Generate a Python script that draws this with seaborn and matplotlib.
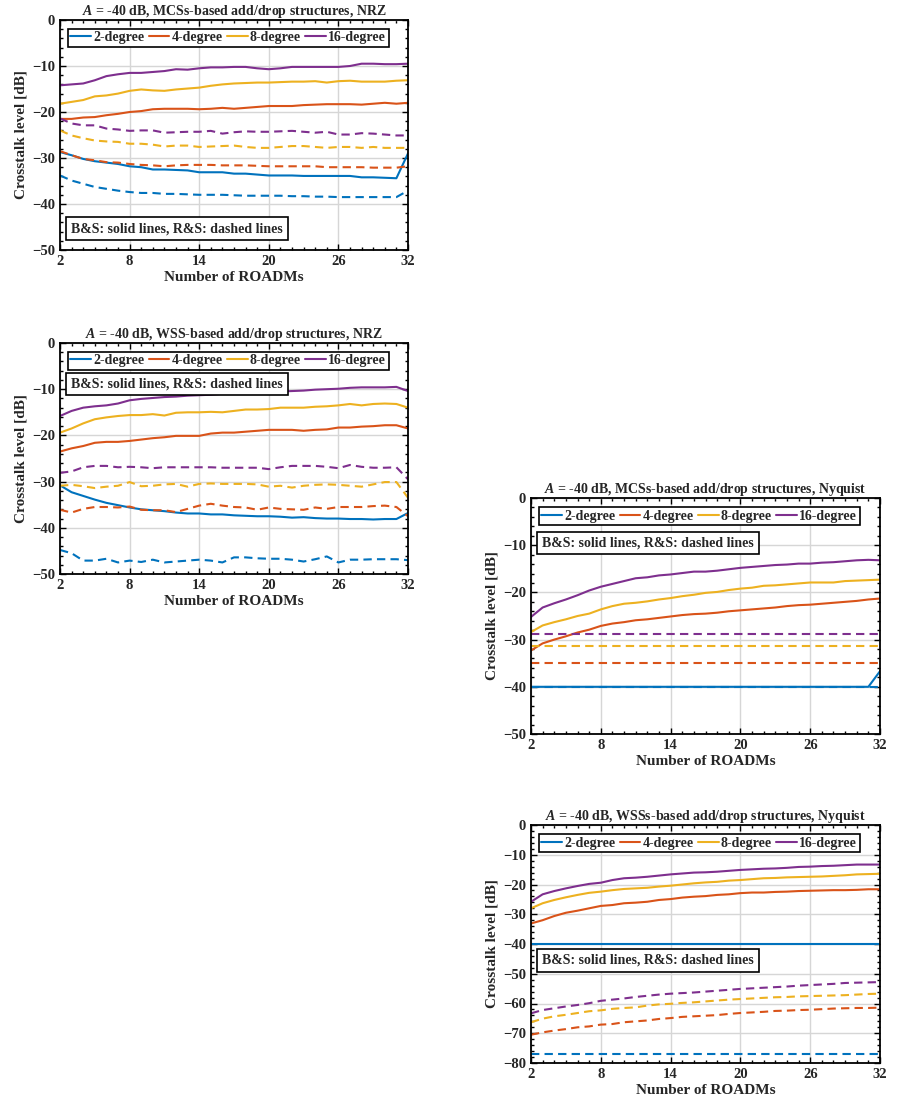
import numpy as np
import pandas as pd
import matplotlib
matplotlib.use("Agg")
import matplotlib.pyplot as plt
from matplotlib.lines import Line2D
from matplotlib.ticker import MultipleLocator
import seaborn as sns

sns.set_theme(style="ticks")
plt.rcParams["font.family"] = ["Liberation Serif", "DejaVu Serif"]
plt.rcParams["font.weight"] = "bold"
plt.rcParams["axes.labelweight"] = "bold"
plt.rcParams["axes.titleweight"] = "bold"
plt.rcParams["mathtext.fontset"] = "custom"
plt.rcParams["mathtext.it"] = "Liberation Serif:bold:italic"
plt.rcParams["mathtext.rm"] = "Liberation Serif:bold"

# ── data ─────────────────────────────────────────────────────────────────────
ROADMS = list(range(2, 33))
DEGREES = ["2-degree", "4-degree", "8-degree", "16-degree"]
COLORS = {"2-degree": "#0072BD", "4-degree": "#D95319",
          "8-degree": "#EDB120", "16-degree": "#7E2F8E"}
NOTE = "B&S: solid lines, R&S: dashed lines"

# MCSs-based, NRZ
MCS_NRZ_BS_2 = [-28.7, -29.4, -30.2, -30.7, -31.0, -31.3, -31.8,
                -32.0, -32.5, -32.5, -32.6, -32.7, -33.1,
                -33.1, -33.1, -33.4, -33.4, -33.6, -33.8,
                -33.8, -33.8, -33.9, -33.9, -33.9, -33.9,
                -33.9, -34.2, -34.2, -34.3, -34.4, -29.0]
MCS_NRZ_BS_4 = [-21.5, -21.5, -21.2, -21.1, -20.7, -20.4, -20.0,
                -19.8, -19.4, -19.3, -19.3, -19.3, -19.4,
                -19.3, -19.1, -19.3, -19.1, -18.9, -18.7,
                -18.7, -18.7, -18.5, -18.4, -18.3, -18.3,
                -18.3, -18.4, -18.2, -18.0, -18.2, -18.0]
MCS_NRZ_BS_8 = [-18.2, -17.8, -17.4, -16.6, -16.4, -16.0, -15.4,
                -15.1, -15.3, -15.4, -15.1, -14.9, -14.7,
                -14.3, -14.0, -13.8, -13.7, -13.6, -13.6,
                -13.5, -13.4, -13.4, -13.3, -13.6, -13.3,
                -13.2, -13.4, -13.4, -13.4, -13.2, -13.1]
MCS_NRZ_BS_16 = [-14.2, -14.0, -13.8, -13.1, -12.2, -11.8, -11.5,
                 -11.5, -11.3, -11.1, -10.7, -10.8, -10.5,
                 -10.3, -10.3, -10.2, -10.2, -10.5, -10.7,
                 -10.5, -10.2, -10.2, -10.2, -10.2, -10.2,
                 -10.0, -9.5, -9.5, -9.6, -9.6, -9.5]
MCS_NRZ_RS_2 = [-33.8, -34.9, -35.6, -36.3, -36.7, -37.1, -37.4,
                -37.6, -37.6, -37.8, -37.8, -37.9, -38.0,
                -38.0, -38.0, -38.1, -38.2, -38.2, -38.2,
                -38.2, -38.3, -38.3, -38.4, -38.4, -38.5,
                -38.5, -38.5, -38.5, -38.5, -38.5, -37.1]
MCS_NRZ_RS_4 = [-28.5, -29.4, -30.2, -30.5, -30.9, -31.0, -31.3,
                -31.5, -31.6, -31.8, -31.6, -31.5, -31.5,
                -31.5, -31.6, -31.6, -31.6, -31.7, -31.8,
                -31.8, -31.8, -31.8, -31.8, -32.0, -32.0,
                -32.0, -32.0, -32.1, -32.1, -32.1, -31.8]
MCS_NRZ_RS_8 = [-24.0, -25.1, -25.7, -26.2, -26.4, -26.5, -26.9,
                -26.9, -27.1, -27.5, -27.3, -27.3, -27.6,
                -27.5, -27.4, -27.3, -27.6, -27.8, -27.8,
                -27.6, -27.4, -27.4, -27.6, -27.8, -27.6,
                -27.6, -27.8, -27.6, -27.8, -27.8, -27.8]
MCS_NRZ_RS_16 = [-21.4, -22.5, -22.9, -22.9, -23.6, -23.8, -24.1,
                 -24.0, -24.0, -24.5, -24.4, -24.3, -24.3,
                 -24.1, -24.7, -24.4, -24.2, -24.3, -24.3,
                 -24.2, -24.1, -24.3, -24.5, -24.3, -24.9,
                 -24.9, -24.6, -24.7, -24.9, -25.1, -25.1]

# WSS-based, NRZ
WSS_NRZ_BS_2 = [-30.8, -32.3, -33.1, -33.9, -34.6, -35.1, -35.6,
                -36.0, -36.2, -36.4, -36.7, -36.9, -36.9,
                -37.1, -37.1, -37.3, -37.4, -37.5, -37.5,
                -37.6, -37.8, -37.7, -37.9, -38.0, -38.0,
                -38.1, -38.1, -38.2, -38.1, -38.1, -36.8]
WSS_NRZ_BS_4 = [-23.5, -22.8, -22.3, -21.6, -21.4, -21.4, -21.2,
                -20.9, -20.6, -20.4, -20.1, -20.1, -20.1,
                -19.6, -19.4, -19.4, -19.2, -19.0, -18.8,
                -18.8, -18.8, -19.0, -18.8, -18.7, -18.3,
                -18.3, -18.1, -18.0, -17.8, -17.8, -18.5]
WSS_NRZ_BS_8 = [-19.4, -18.5, -17.4, -16.5, -16.1, -15.8, -15.6,
                -15.6, -15.4, -15.7, -15.1, -15.0, -15.0,
                -14.9, -15.0, -14.7, -14.4, -14.4, -14.3,
                -14.0, -14.0, -14.0, -13.8, -13.7, -13.5,
                -13.2, -13.5, -13.2, -13.1, -13.2, -14.0]
WSS_NRZ_BS_16 = [-15.8, -14.7, -14.0, -13.7, -13.5, -13.1, -12.4,
                 -12.1, -11.9, -11.7, -11.6, -11.4, -11.3,
                 -11.2, -11.0, -10.9, -10.8, -10.7, -10.6,
                 -10.5, -10.4, -10.3, -10.1, -10.0, -9.9,
                 -9.7, -9.6, -9.6, -9.6, -9.5, -10.4]
WSS_NRZ_RS_2 = [-44.8, -45.5, -47.1, -47.1, -46.7, -47.5, -47.1,
                -47.4, -46.9, -47.5, -47.3, -47.1, -46.9,
                -47.1, -47.5, -46.4, -46.4, -46.6, -46.7,
                -46.7, -46.9, -47.3, -46.8, -46.2, -47.5,
                -46.9, -46.9, -46.8, -46.8, -46.8, -47.0]
WSS_NRZ_RS_4 = [-36.1, -36.7, -35.9, -35.5, -35.5, -35.6, -35.4,
                -36.1, -36.2, -36.2, -36.6, -35.9, -35.2,
                -34.8, -35.2, -35.5, -35.6, -36.1, -35.6,
                -35.9, -36.0, -36.1, -35.6, -35.9, -35.5,
                -35.5, -35.5, -35.3, -35.2, -35.5, -37.5]
WSS_NRZ_RS_8 = [-30.9, -30.7, -31.0, -31.4, -31.1, -30.9, -30.1,
                -31.0, -30.9, -30.6, -30.5, -31.1, -30.5,
                -30.4, -30.5, -30.5, -30.5, -30.6, -31.1,
                -30.9, -31.3, -30.9, -30.7, -30.6, -30.7,
                -30.9, -31.1, -30.6, -30.1, -30.1, -33.5]
WSS_NRZ_RS_16 = [-28.1, -27.8, -26.9, -26.6, -26.6, -26.9, -26.8,
                 -26.9, -27.1, -26.9, -26.9, -26.9, -26.9,
                 -26.9, -27.0, -27.0, -27.0, -27.0, -27.3,
                 -26.9, -26.6, -26.6, -26.6, -26.8, -27.1,
                 -26.4, -26.8, -27.0, -27.0, -26.9, -29.5]

# MCSs-based, Nyquist
MCS_NYQ_BS_2 = [-40.0, -40.0, -40.0, -40.0, -40.0, -40.0, -40.0,
                -40.0, -40.0, -40.0, -40.0, -40.0, -40.0,
                -40.0, -40.0, -40.0, -40.0, -40.0, -40.0,
                -40.0, -40.0, -40.0, -40.0, -40.0, -40.0,
                -40.0, -40.0, -40.0, -40.0, -40.0, -36.7]
MCS_NYQ_BS_4 = [-32.3, -30.8, -30.0, -29.3, -28.5, -27.9, -27.1,
                -26.6, -26.3, -25.9, -25.7, -25.4, -25.1,
                -24.8, -24.6, -24.5, -24.3, -24.0, -23.8,
                -23.6, -23.4, -23.2, -22.9, -22.7, -22.6,
                -22.4, -22.2, -22.0, -21.8, -21.5, -21.3]
MCS_NYQ_BS_8 = [-28.4, -27.0, -26.3, -25.7, -25.0, -24.5, -23.6,
                -22.9, -22.4, -22.2, -21.9, -21.5, -21.2,
                -20.8, -20.5, -20.1, -19.9, -19.5, -19.2,
                -19.0, -18.6, -18.5, -18.3, -18.1, -17.9,
                -17.9, -17.9, -17.6, -17.5, -17.4, -17.3]
MCS_NYQ_BS_16 = [-25.2, -23.2, -22.3, -21.5, -20.6, -19.6, -18.8,
                 -18.2, -17.6, -17.0, -16.8, -16.4, -16.2,
                 -15.9, -15.6, -15.6, -15.4, -15.1, -14.8,
                 -14.6, -14.4, -14.2, -14.1, -13.9, -13.9,
                 -13.7, -13.6, -13.4, -13.2, -13.1, -13.2]
MCS_NYQ_RS_2 = [-40.0, -40.0, -40.0, -40.0, -40.0, -40.0, -40.0,
                -40.0, -40.0, -40.0, -40.0, -40.0, -40.0,
                -40.0, -40.0, -40.0, -40.0, -40.0, -40.0,
                -40.0, -40.0, -40.0, -40.0, -40.0, -40.0,
                -40.0, -40.0, -40.0, -40.0, -40.0, -40.0]
MCS_NYQ_RS_4 = [-35.0, -35.0, -35.0, -35.0, -35.0, -35.0, -35.0,
                -35.0, -35.0, -35.0, -35.0, -35.0, -35.0,
                -35.0, -35.0, -35.0, -35.0, -35.0, -35.0,
                -35.0, -35.0, -35.0, -35.0, -35.0, -35.0,
                -35.0, -35.0, -35.0, -35.0, -35.0, -35.0]
MCS_NYQ_RS_8 = [-31.3, -31.3, -31.3, -31.3, -31.3, -31.3, -31.3,
                -31.3, -31.3, -31.3, -31.3, -31.3, -31.3,
                -31.3, -31.3, -31.3, -31.3, -31.3, -31.3,
                -31.3, -31.3, -31.3, -31.3, -31.3, -31.3,
                -31.3, -31.3, -31.3, -31.3, -31.3, -31.3]
MCS_NYQ_RS_16 = [-28.8, -28.8, -28.8, -28.8, -28.8, -28.8, -28.8,
                 -28.8, -28.8, -28.8, -28.8, -28.8, -28.8,
                 -28.8, -28.8, -28.8, -28.8, -28.8, -28.8,
                 -28.8, -28.8, -28.8, -28.8, -28.8, -28.8,
                 -28.8, -28.8, -28.8, -28.8, -28.8, -28.8]

# WSSs-based, Nyquist
WSS_NYQ_BS_2 = [-40.0, -40.0, -40.0, -40.0, -40.0, -40.0, -40.0,
                -40.0, -40.0, -40.0, -40.0, -40.0, -40.0,
                -40.0, -40.0, -40.0, -40.0, -40.0, -40.0,
                -40.0, -40.0, -40.0, -40.0, -40.0, -40.0,
                -40.0, -40.0, -40.0, -40.0, -40.0, -40.0]
WSS_NYQ_BS_4 = [-33.1, -32.0, -30.6, -29.5, -28.8, -28.0, -27.2,
                -26.9, -26.3, -26.1, -25.8, -25.2, -24.9,
                -24.4, -24.1, -23.9, -23.5, -23.3, -22.9,
                -22.7, -22.7, -22.5, -22.4, -22.2, -22.1,
                -22.0, -21.9, -21.9, -21.8, -21.6, -21.6]
WSS_NYQ_BS_8 = [-28.0, -26.3, -25.2, -24.3, -23.5, -22.8, -22.4,
                -21.9, -21.5, -21.3, -21.1, -20.7, -20.4,
                -20.0, -19.6, -19.3, -19.1, -18.7, -18.5,
                -18.2, -17.9, -17.8, -17.6, -17.5, -17.4,
                -17.3, -17.1, -16.9, -16.6, -16.5, -16.4]
WSS_NYQ_BS_16 = [-25.8, -23.3, -22.2, -21.3, -20.5, -19.8, -19.4,
                 -18.5, -17.9, -17.7, -17.4, -17.0, -16.6,
                 -16.3, -16.0, -15.9, -15.7, -15.4, -15.1,
                 -14.9, -14.7, -14.6, -14.4, -14.1, -14.0,
                 -13.8, -13.7, -13.5, -13.3, -13.3, -13.3]
WSS_NYQ_RS_2 = [-77.0, -77.0, -77.0, -77.0, -77.0, -77.0, -77.0,
                -77.0, -77.0, -77.0, -77.0, -77.0, -77.0,
                -77.0, -77.0, -77.0, -77.0, -77.0, -77.0,
                -77.0, -77.0, -77.0, -77.0, -77.0, -77.0,
                -77.0, -77.0, -77.0, -77.0, -77.0, -77.0]
WSS_NYQ_RS_4 = [-70.5, -69.7, -69.1, -68.6, -68.0, -67.7, -67.1,
                -66.9, -66.3, -66.0, -65.7, -65.2, -64.9,
                -64.5, -64.3, -64.1, -63.9, -63.5, -63.2,
                -63.0, -62.8, -62.5, -62.4, -62.2, -62.1,
                -61.9, -61.7, -61.6, -61.5, -61.5, -61.4]
WSS_NYQ_RS_8 = [-66.3, -65.1, -64.3, -63.8, -63.2, -62.6, -62.3,
                -61.8, -61.5, -61.3, -60.7, -60.3, -60.1,
                -59.8, -59.6, -59.3, -59.0, -58.7, -58.5,
                -58.3, -58.1, -57.9, -57.8, -57.6, -57.5,
                -57.4, -57.3, -57.2, -57.0, -56.8, -56.7]
WSS_NYQ_RS_16 = [-63.3, -62.2, -61.6, -61.0, -60.5, -59.9, -59.1,
                 -58.7, -58.3, -57.8, -57.4, -57.0, -56.7,
                 -56.5, -56.3, -56.0, -55.7, -55.4, -55.1,
                 -54.9, -54.7, -54.5, -54.3, -54.0, -53.8,
                 -53.6, -53.4, -53.1, -53.0, -52.9, -52.8]


def panel_frame(bs, rs):
    """bs / rs: lists of series in DEGREES order -> long-form frame."""
    parts = []
    for arch, group in (("B&S", bs), ("R&S", rs)):
        for deg, vals in zip(DEGREES, group):
            parts.append(pd.DataFrame({"roadms": ROADMS, "level": vals,
                                       "degree": deg, "arch": arch}))
    return pd.concat(parts, ignore_index=True)


def draw_panel(ax, df, title, ymin, note_y):
    sns.lineplot(data=df, x="roadms", y="level", hue="degree", style="arch",
                 hue_order=DEGREES, palette=COLORS, style_order=["B&S", "R&S"],
                 dashes={"B&S": "", "R&S": (4, 2.5)}, linewidth=1.5,
                 errorbar=None, legend=False, ax=ax)

    ax.set_xlim(2, 32)
    ax.set_ylim(ymin, 0)
    ax.set_xticks(range(2, 33, 6))
    ax.set_yticks(range(ymin, 1, 10))
    ax.xaxis.set_minor_locator(MultipleLocator(1))
    ax.yaxis.set_minor_locator(MultipleLocator(2))
    ax.tick_params(which="both", direction="in", top=True, right=True,
                   labelsize=10.5, color="black", width=1)
    ax.tick_params(which="major", length=4)
    ax.tick_params(which="minor", length=2.5)
    ax.grid(True, which="major", color="#d6d6d6", linewidth=1)
    for sp in ax.spines.values():
        sp.set_color("black")
        sp.set_linewidth(1.3)

    ax.set_title(title, fontsize=10, pad=3)
    ax.set_xlabel("Number of ROADMs", fontsize=11, labelpad=2)
    ax.set_ylabel("Crosstalk level [dB]", fontsize=11, labelpad=3)

    handles = [Line2D([], [], color=COLORS[d], lw=1.5) for d in DEGREES]
    leg = ax.legend(handles, DEGREES, ncol=4, loc="upper left",
                    bbox_to_anchor=(0.022, 0.963), fontsize=10,
                    frameon=True, fancybox=False, framealpha=1,
                    edgecolor="black", handlelength=1.5, handletextpad=0.15,
                    columnspacing=0.3, borderpad=0.2, borderaxespad=0)
    leg.get_frame().set_linewidth(1.2)

    ax.text(0.032, note_y, NOTE, transform=ax.transAxes, fontsize=10,
            va="center", ha="left", zorder=5,
            bbox=dict(boxstyle="square,pad=0.35", fc="white", ec="black", lw=1.2))


fig = plt.figure(figsize=(9.01, 11.02), dpi=100)
W, H = 901, 1102


def add_axes(left, top, width, height):
    return fig.add_axes([left / W, 1 - (top + height) / H, width / W, height / H])


ax1 = add_axes(60, 20, 348, 230)
ax2 = add_axes(60, 343, 348, 231)
ax3 = add_axes(531, 498, 349, 236)
ax4 = add_axes(531, 825, 349, 238)

draw_panel(ax1,
           panel_frame([MCS_NRZ_BS_2, MCS_NRZ_BS_4, MCS_NRZ_BS_8, MCS_NRZ_BS_16],
                       [MCS_NRZ_RS_2, MCS_NRZ_RS_4, MCS_NRZ_RS_8, MCS_NRZ_RS_16]),
           r"$A$ = -40 dB, MCSs-based add/drop structures, NRZ", -50, 0.092)
draw_panel(ax2,
           panel_frame([WSS_NRZ_BS_2, WSS_NRZ_BS_4, WSS_NRZ_BS_8, WSS_NRZ_BS_16],
                       [WSS_NRZ_RS_2, WSS_NRZ_RS_4, WSS_NRZ_RS_8, WSS_NRZ_RS_16]),
           r"$A$ = -40 dB, WSS-based add/drop structures, NRZ", -50, 0.823)
draw_panel(ax3,
           panel_frame([MCS_NYQ_BS_2, MCS_NYQ_BS_4, MCS_NYQ_BS_8, MCS_NYQ_BS_16],
                       [MCS_NYQ_RS_2, MCS_NYQ_RS_4, MCS_NYQ_RS_8, MCS_NYQ_RS_16]),
           r"$A$ = -40 dB, MCSs-based add/drop structures, Nyquist", -50, 0.809)
draw_panel(ax4,
           panel_frame([WSS_NYQ_BS_2, WSS_NYQ_BS_4, WSS_NYQ_BS_8, WSS_NYQ_BS_16],
                       [WSS_NYQ_RS_2, WSS_NYQ_RS_4, WSS_NYQ_RS_8, WSS_NYQ_RS_16]),
           r"$A$ = -40 dB, WSSs-based add/drop structures, Nyquist", -80, 0.431)

fig.savefig("out.png", dpi=100)
